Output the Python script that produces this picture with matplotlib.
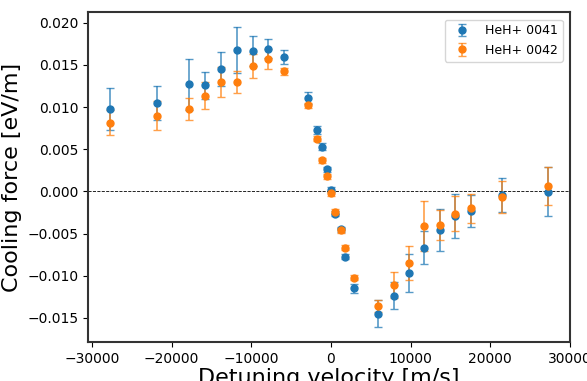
import matplotlib.pyplot as plt

# detuning velocities [m/s]
velocity = [-27700, -21800, -17800, -15800, -13800, -11800, -9850, -7880, -5880,
            -2920, -1780, -1150, -540, 0, 500, 1210, 1760, 2930,
            5860, 7860, 9740, 11700, 13710, 15590, 17560, 21460, 27270]

# HeH+ 0041
force_41 = [0.0098, 0.0105, 0.0127, 0.01257, 0.01455, 0.0168, 0.01669, 0.01692, 0.01597,
            0.01103, 0.00727, 0.00529, 0.0026, 0.0002, -0.00263, -0.0045, -0.00778, -0.0115,
            -0.0145, -0.01237, -0.00968, -0.00667, -0.00461, -0.00295, -0.00235, -0.00045, -0.00006]
err_41 = [0.0025, 0.002, 0.003, 0.0016, 0.002, 0.0027, 0.0018, 0.0011, 0.0008,
          0.0007, 0.0005, 0.0004, 0.0003, 0.0003, 0.0003, 0.0003, 0.0003, 0.0005,
          0.0016, 0.0016, 0.0023, 0.002, 0.0025, 0.0026, 0.0019, 0.002, 0.0029]

# HeH+ 0042
force_42 = [0.00814, 0.00897, 0.00972, 0.01134, 0.013, 0.013, 0.01487, 0.01566, 0.01424,
            0.0102, 0.00624, 0.0037, 0.0018, -0.00025, -0.00243, -0.0046, -0.0067, -0.01027,
            -0.0136, -0.0111, -0.00853, -0.0041, -0.00401, -0.00263, -0.00203, -0.00065, 0.00065]
err_42 = [0.0015, 0.0017, 0.0013, 0.0016, 0.0018, 0.0013, 0.0014, 0.0012, 0.0004,
          0.0003, 0.0003, 0.0003, 0.0003, 0.0003, 0.0003, 0.0003, 0.0003, 0.0003,
          0.0007, 0.0015, 0.002, 0.003, 0.0018, 0.0021, 0.0017, 0.0019, 0.0023]

fig = plt.figure(figsize=(5.87, 3.81), dpi=100)
ax = fig.add_axes([88 / 587, 1 - 342 / 381, (570 - 88) / 587, (342 - 12) / 381])

# error bars
ax.errorbar(velocity, force_41, yerr=err_41, fmt="o", ms=5, capsize=3,
            elinewidth=1.2, ecolor=(0.12, 0.47, 0.71, 0.75), label="HeH+ 0041")
ax.errorbar(velocity, force_42, yerr=err_42, fmt="o", ms=5, capsize=3,
            elinewidth=1.2, ecolor=(1.0, 0.5, 0.05, 0.75), label="HeH+ 0042")

# zero line
ax.axhline(0, color="black", linestyle="--", linewidth=0.6)

ax.set_xlim(-30500, 30000)
ax.set_ylim(-0.01787, 0.02128)
ax.set_xticks([-30000, -20000, -10000, 0, 10000, 20000, 30000])
ax.tick_params(labelsize=10)
for s in ax.spines.values():
    s.set_linewidth(1.5)
    s.set_color("#333333")

ax.set_xlabel("Detuning velocity [m/s]", fontsize=16, labelpad=2)
ax.set_ylabel("Cooling force [eV/m]", fontsize=16)
ax.legend(loc="upper right", fontsize=9, borderaxespad=0.6)

fig.savefig("out.png", dpi=100)
